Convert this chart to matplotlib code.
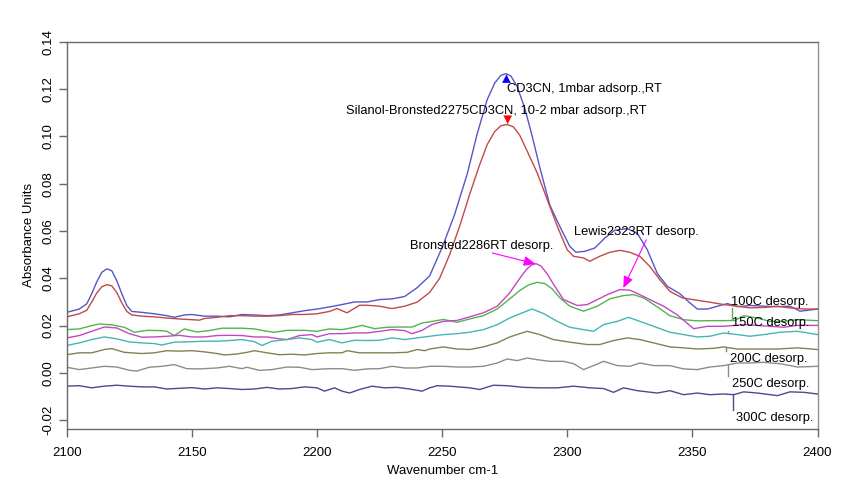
import matplotlib
matplotlib.use("Agg")
import matplotlib.pyplot as plt

plt.rcParams['font.family'] = ['Liberation Sans', 'DejaVu Sans']

# --- spectra (wavenumber cm-1, absorbance) ---
wn_ads1 = [2100, 2105, 2108, 2110, 2112, 2114, 2116, 2118, 2120, 2122, 2124, 2126, 2130,
           2135, 2140, 2143, 2147, 2150, 2155, 2160, 2165, 2170, 2175, 2180, 2185, 2190,
           2195, 2200, 2205, 2210, 2215, 2220, 2225, 2230, 2235, 2240, 2245, 2250, 2255,
           2260, 2264, 2268, 2271, 2273.5, 2275.5, 2277.5, 2280, 2283, 2286, 2289, 2293,
           2297, 2301, 2303.5, 2307, 2311, 2315, 2319, 2324, 2328, 2332, 2336, 2340, 2345,
           2349, 2352, 2356, 2360, 2364, 2368, 2373, 2379, 2384, 2389, 2393, 2400]
ab_ads1 = [0.0256, 0.027, 0.0292, 0.0335, 0.0385, 0.0425, 0.044, 0.0432, 0.039, 0.0335,
           0.0285, 0.026, 0.0256, 0.025, 0.0242, 0.0235, 0.0245, 0.0247, 0.024, 0.024,
           0.0237, 0.0247, 0.0245, 0.0242, 0.0245, 0.0254, 0.0263, 0.027, 0.0279, 0.0289,
           0.030, 0.030, 0.031, 0.0313, 0.0323, 0.036, 0.041, 0.053, 0.067, 0.084, 0.101,
           0.1155, 0.1225, 0.1258, 0.1265, 0.1255, 0.121, 0.112, 0.1, 0.087, 0.071, 0.062,
           0.0535, 0.051, 0.0514, 0.0528, 0.057, 0.0603, 0.061, 0.059, 0.052, 0.042, 0.0366,
           0.0335, 0.0296, 0.027, 0.027, 0.0282, 0.0293, 0.028, 0.0285, 0.0282, 0.028,
           0.0282, 0.0261, 0.027]

wn_ads2 = [2100, 2105, 2108, 2110, 2112, 2114, 2116, 2118, 2120, 2122, 2124, 2126, 2130,
           2135, 2140, 2145, 2150, 2153, 2155, 2160, 2165, 2170, 2175, 2180, 2185, 2190,
           2195, 2200, 2205, 2208, 2212, 2217, 2220, 2225, 2230, 2235, 2240, 2245, 2249,
           2253, 2257, 2261, 2265, 2268, 2271, 2273.5, 2276, 2278.5, 2281, 2284, 2288, 2292,
           2296, 2300, 2302.5, 2306.5, 2309, 2313, 2317, 2321, 2325, 2329, 2333, 2337, 2341,
           2346, 2352, 2357, 2362.5, 2368, 2373, 2379, 2384, 2389, 2395, 2400]
ab_ads2 = [0.0237, 0.025, 0.0265, 0.03, 0.0338, 0.0364, 0.0373, 0.0368, 0.034, 0.0296,
           0.026, 0.0245, 0.024, 0.0237, 0.0232, 0.0228, 0.0225, 0.0223, 0.023, 0.0235,
           0.0242, 0.0242, 0.024, 0.024, 0.0242, 0.0247, 0.0247, 0.025, 0.026, 0.0272,
           0.0254, 0.0286, 0.0286, 0.0282, 0.0272, 0.0282, 0.0299, 0.034, 0.040, 0.050,
           0.062, 0.0755, 0.088, 0.0965, 0.102, 0.1045, 0.105, 0.104, 0.1005, 0.0937,
           0.0845, 0.0733, 0.062, 0.052, 0.0493, 0.0486, 0.0472, 0.0493, 0.051, 0.0518,
           0.051, 0.0493, 0.045, 0.0394, 0.0345, 0.0317, 0.0307, 0.0299, 0.0289, 0.0282,
           0.0275, 0.0277, 0.0282, 0.0275, 0.027, 0.027]

wn_100 = [2100, 2105, 2110, 2113, 2118, 2123, 2127, 2132, 2137, 2140, 2143, 2147, 2152,
          2157, 2162, 2170, 2175, 2180, 2183, 2188, 2195, 2200, 2205, 2210, 2215, 2218,
          2223, 2228, 2233, 2238, 2242, 2245, 2250.5, 2256, 2261, 2266.5, 2272, 2277,
          2281, 2284.5, 2288, 2291, 2294, 2297, 2301, 2306.5, 2312, 2317, 2322.5, 2326.5,
          2330.5, 2336, 2341, 2346.5, 2352, 2357, 2362.5, 2367, 2370.5, 2376, 2381, 2386.5,
          2392, 2400]
ab_100 = [0.0183, 0.0186, 0.020, 0.0207, 0.0203, 0.0193, 0.0172, 0.018, 0.0179, 0.0176,
          0.0158, 0.0186, 0.0173, 0.0179, 0.0189, 0.0189, 0.0186, 0.0176, 0.0172, 0.018,
          0.018, 0.0176, 0.0186, 0.0183, 0.0193, 0.0201, 0.0187, 0.0193, 0.0194, 0.0194,
          0.0211, 0.0216, 0.0226, 0.0214, 0.0228, 0.0242, 0.027, 0.0313, 0.0348, 0.0372,
          0.0383, 0.0378, 0.0355, 0.0318, 0.0282, 0.0261, 0.0282, 0.0313, 0.0327, 0.0331,
          0.0317, 0.0279, 0.0242, 0.0225, 0.022, 0.0221, 0.0221, 0.0222, 0.0242, 0.0232,
          0.0218, 0.0218, 0.0225, 0.0221]

wn_rt = [2100, 2105, 2110, 2115, 2120, 2125, 2130, 2135, 2140, 2145, 2150, 2155, 2160,
         2165, 2170, 2175, 2180, 2185, 2188, 2193, 2198, 2200, 2205, 2210, 2215, 2220,
         2225, 2230, 2235, 2238, 2242, 2246, 2250.5, 2256, 2261, 2266.5, 2272, 2277,
         2280.5, 2283.5, 2285.5, 2287.5, 2289.5, 2292, 2294.5, 2298.5, 2304, 2308, 2312,
         2316, 2321, 2325, 2329, 2333, 2338.5, 2344, 2350.5, 2356, 2362.5, 2370.5, 2378.5,
         2386.5, 2392, 2400]
ab_rt = [0.0148, 0.0158, 0.0176, 0.0194, 0.019, 0.0166, 0.0151, 0.0152, 0.0155, 0.0159,
         0.0152, 0.0152, 0.0158, 0.0159, 0.0158, 0.0152, 0.0152, 0.0144, 0.0141, 0.0158,
         0.0162, 0.0152, 0.0166, 0.0166, 0.0169, 0.0169, 0.0176, 0.0183, 0.0179, 0.0166,
         0.018, 0.0205, 0.0218, 0.0222, 0.0237, 0.0254, 0.0282, 0.0338, 0.0392, 0.0435,
         0.0455, 0.0462, 0.0452, 0.0418, 0.0375, 0.031, 0.0285, 0.0289, 0.031, 0.0331,
         0.0352, 0.035, 0.0331, 0.031, 0.0282, 0.0245, 0.0187, 0.0197, 0.0197, 0.0204,
         0.0199, 0.0193, 0.0201, 0.0201]

wn_150 = [2100, 2105, 2110, 2115, 2120, 2125, 2130, 2135, 2138, 2143, 2150, 2155, 2160,
          2165, 2170, 2175, 2178, 2182, 2188, 2193, 2198, 2200, 2205, 2210, 2215, 2220,
          2225, 2230, 2235, 2240, 2245, 2250.5, 2256, 2261, 2266.5, 2272, 2277, 2282.5,
          2286, 2290.5, 2296, 2301, 2306.5, 2310.5, 2314.5, 2320, 2324.5, 2329, 2334.5,
          2341, 2346.5, 2352, 2357, 2362.5, 2368, 2373, 2378.5, 2385, 2392, 2400]
ab_150 = [0.0116, 0.0127, 0.0141, 0.0152, 0.0144, 0.0131, 0.0127, 0.0124, 0.0118, 0.013,
          0.0132, 0.0134, 0.0134, 0.0137, 0.0141, 0.0132, 0.0116, 0.0134, 0.0141, 0.0148,
          0.0141, 0.013, 0.0141, 0.0127, 0.0138, 0.0137, 0.0138, 0.0148, 0.0141, 0.0148,
          0.0155, 0.0162, 0.0166, 0.0172, 0.0183, 0.0204, 0.0232, 0.0256, 0.027, 0.0251,
          0.0218, 0.0193, 0.0183, 0.0176, 0.0204, 0.0218, 0.0235, 0.0218, 0.0197, 0.0172,
          0.0162, 0.0152, 0.0155, 0.0169, 0.0162, 0.0155, 0.0162, 0.0172, 0.0176, 0.0162]

wn_200 = [2100, 2105, 2110, 2115, 2118, 2123, 2130, 2135, 2140, 2145, 2150, 2155, 2160,
          2163, 2168, 2172, 2175, 2180, 2185, 2190, 2195, 2200, 2205, 2210, 2212, 2217,
          2222, 2230, 2236, 2240, 2243, 2245, 2250.5, 2256, 2261, 2266.5, 2272, 2277, 2284,
          2289, 2294.5, 2301, 2308, 2313, 2318.5, 2324, 2329, 2336, 2341, 2346.5, 2352,
          2358.5, 2362.5, 2368, 2376, 2384, 2392, 2400]
ab_200 = [0.0077, 0.0085, 0.0085, 0.0099, 0.0103, 0.0087, 0.0082, 0.0085, 0.0094, 0.0092,
          0.0094, 0.0089, 0.0082, 0.0076, 0.008, 0.0087, 0.0094, 0.0085, 0.0077, 0.0079,
          0.0076, 0.0082, 0.0085, 0.0085, 0.0094, 0.0085, 0.0085, 0.0085, 0.0087, 0.0099,
          0.0094, 0.0101, 0.011, 0.0101, 0.0099, 0.011, 0.0127, 0.0152, 0.0176, 0.0162,
          0.0141, 0.013, 0.012, 0.012, 0.0137, 0.0148, 0.0141, 0.0123, 0.011, 0.0106,
          0.0101, 0.0104, 0.011, 0.0101, 0.0101, 0.0101, 0.0106, 0.0099]

wn_250 = [2100, 2105, 2110, 2115, 2120, 2125, 2128, 2133, 2138, 2143, 2148, 2153, 2160,
          2165, 2170, 2172, 2177, 2182, 2188, 2193, 2198, 2205, 2210, 2215, 2220, 2225,
          2230, 2235, 2240, 2245, 2250.5, 2256, 2261, 2266.5, 2272, 2276, 2280, 2284, 2288,
          2293, 2298.5, 2302.5, 2306.5, 2310.5, 2314.5, 2320, 2325, 2329, 2334.5, 2341,
          2346.5, 2352, 2357, 2362.5, 2368, 2373, 2378.5, 2385, 2392, 2400]
ab_250 = [0.0024, 0.0014, 0.0021, 0.0028, 0.0025, 0.0011, 0.0008, 0.0024, 0.0028, 0.0035,
          0.0018, 0.0017, 0.0021, 0.0028, 0.0018, 0.0024, 0.0011, 0.0014, 0.0025, 0.0024,
          0.0014, 0.0018, 0.0018, 0.0011, 0.0017, 0.0018, 0.0028, 0.0021, 0.0021, 0.0028,
          0.0028, 0.0025, 0.0025, 0.0028, 0.0042, 0.0059, 0.0052, 0.0063, 0.0056, 0.0049,
          0.0049, 0.0039, 0.0014, 0.0031, 0.0049, 0.0031, 0.0028, 0.0042, 0.0031, 0.0031,
          0.0017, 0.0014, 0.0025, 0.0031, 0.0042, 0.0042, 0.0045, 0.0039, 0.0025, 0.0028]

wn_300 = [2100, 2105, 2110, 2115, 2120, 2125, 2130, 2135, 2140, 2145, 2150, 2155, 2160,
          2165, 2170, 2175, 2180, 2185, 2190, 2195, 2200, 2203, 2207, 2210, 2213, 2217,
          2222, 2227, 2232, 2237, 2242, 2245, 2248, 2253, 2261, 2265, 2270.5, 2276, 2282.5,
          2289, 2296, 2302.5, 2309, 2314.5, 2318.5, 2322.5, 2328, 2336, 2341, 2346.5, 2352,
          2357, 2362.5, 2366.5, 2370.5, 2376, 2384, 2389, 2394.5, 2400]
ab_300 = [-0.0056, -0.0054, -0.0063, -0.0056, -0.0052, -0.0056, -0.0059, -0.0059, -0.0068,
          -0.0065, -0.0062, -0.0068, -0.0063, -0.0066, -0.007, -0.0068, -0.0061, -0.0068,
          -0.0066, -0.0059, -0.0063, -0.0077, -0.0063, -0.0077, -0.0085, -0.007, -0.0056,
          -0.0063, -0.0061, -0.0068, -0.0077, -0.0063, -0.0054, -0.0056, -0.0063, -0.007,
          -0.0052, -0.0054, -0.0061, -0.0063, -0.0063, -0.0056, -0.0063, -0.0066, -0.0082,
          -0.0063, -0.0075, -0.0085, -0.0075, -0.0092, -0.0085, -0.0092, -0.0089, -0.0092,
          -0.008, -0.0085, -0.0096, -0.008, -0.0082, -0.0089]

y_ticks = [-0.02, 0.00, 0.02, 0.04, 0.06, 0.08, 0.10, 0.12, 0.14]
x_ticks = [2100, 2150, 2200, 2250, 2300, 2350, 2400]

fig = plt.figure(figsize=(8.6, 5.0), dpi=100)
ax = fig.add_axes([0.0776, 0.142, 0.8730, 0.7746])

spectra = [
    (wn_ads1, ab_ads1, '#5656c8'),
    (wn_ads2, ab_ads2, '#c04a4a'),
    (wn_100, ab_100, '#50b450'),
    (wn_rt, ab_rt, '#c446c4'),
    (wn_150, ab_150, '#46b4b4'),
    (wn_200, ab_200, '#828250'),
    (wn_250, ab_250, '#8c8c8c'),
    (wn_300, ab_300, '#4a4a8c'),
]
for wn, ab, col in spectra:
    ax.plot(wn, ab, color=col, lw=1.0)

ax.set_xlim(2100, 2400)
ax.set_ylim(-0.0237, 0.14)
ax.set_xticks(x_ticks)
ax.set_yticks(y_ticks)
ax.set_yticklabels(['%.2f' % v for v in y_ticks])
for side in ['top', 'right', 'left', 'bottom']:
    ax.spines[side].set_color('#6a6a6a')
    ax.spines[side].set_linewidth(1.0)
ax.spines['right'].set_color('#909090')
ax.tick_params(axis='both', direction='out', length=6, width=1.0, color='#6a6a6a',
               labelsize=9.5, labelcolor='black')
ax.tick_params(axis='x', pad=7)
ax.tick_params(axis='y', pad=3, labelrotation=90)
for lab in ax.get_yticklabels():
    lab.set_va('center')

ax.set_xlabel('Wavenumber cm-1', fontsize=9.5, labelpad=4)
ax.set_ylabel('Absorbance Units', fontsize=9.5, labelpad=5)

fs = 9.3
# peak labels with small arrow heads
ax.text(2276, 0.1202, 'CD3CN, 1mbar adsorp.,RT', fontsize=fs, va='center', ha='left')
ax.annotate('', xy=(2275.7, 0.1262), xytext=(2275.7, 0.1225),
            arrowprops=dict(arrowstyle='-|>,head_length=0.6,head_width=0.3',
                            color='blue', lw=0.1, shrinkA=0, shrinkB=0))
ax.text(2211.6, 0.1109, 'Silanol-Bronsted2275CD3CN, 10-2 mbar adsorp.,RT', fontsize=fs,
        va='center', ha='left')
ax.annotate('', xy=(2276.2, 0.1052), xytext=(2276.2, 0.1088),
            arrowprops=dict(arrowstyle='-|>,head_length=0.6,head_width=0.3',
                            color='red', lw=0.1, shrinkA=0, shrinkB=0))

ax.text(2237, 0.0535, 'Bronsted2286RT desorp.', fontsize=fs, va='center', ha='left')
ax.annotate('', xy=(2287.3, 0.0461), xytext=(2270, 0.0507),
            arrowprops=dict(arrowstyle='-|>,head_length=0.7,head_width=0.3',
                            color='#ff00ff', lw=0.8, shrinkA=0, shrinkB=0))
ax.text(2302.7, 0.0594, 'Lewis2323RT desorp.', fontsize=fs, va='center', ha='left')
ax.annotate('', xy=(2322.4, 0.0359), xytext=(2331.6, 0.0563),
            arrowprops=dict(arrowstyle='-|>,head_length=0.7,head_width=0.3',
                            color='#ff00ff', lw=0.8, shrinkA=0, shrinkB=0))

# desorption temperature labels with leader lines
temp_labels = [
    ('100C desorp.', 2365.3, 0.0300, 2365.7, 0.0276, 0.0222, '#50b450'),
    ('150C desorp.', 2366.0, 0.0211, 2364.4, 0.0178, 0.0170, '#46b4b4'),
    ('200C desorp.', 2364.9, 0.0059, 2363.3, 0.0107, 0.0092, '#828250'),
    ('250C desorp.', 2366.0, -0.0046, 2364.4, 0.0035, -0.0011, '#8c8c8c'),
    ('300C desorp.', 2367.6, -0.0190, 2366.2, -0.0088, -0.0155, '#4a4a8c'),
]
for txt, tx, ty, lx, ly0, ly1, col in temp_labels:
    ax.text(tx, ty, txt, fontsize=fs, va='center', ha='left')
    ax.plot([lx, lx], [ly0, ly1], color=col, lw=1.0)

fig.savefig('out.png', dpi=100)
